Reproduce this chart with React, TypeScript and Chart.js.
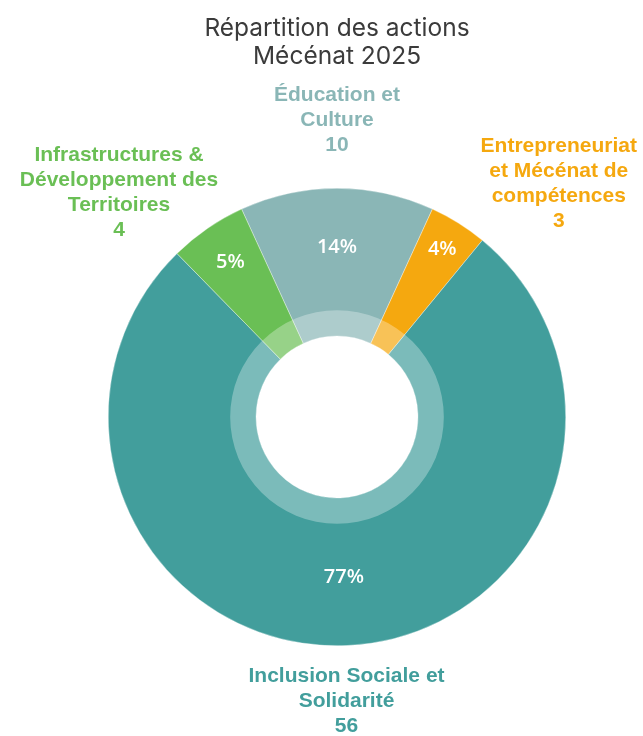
import React, { useEffect, useRef } from "react";
import { Chart, registerables } from "chart.js";

Chart.register(...registerables);

// ---- Data ----
const CATEGORIES: string[][] = [
  ["Éducation et", "Culture"],
  ["Entrepreneuriat", "et Mécénat de", "compétences"],
  ["Inclusion Sociale et", "Solidarité"],
  ["Infrastructures &", "Développement des", "Territoires"],
];
const VALUES: number[] = [10, 3, 56, 4];
const COLORS: string[] = ["#8AB6B6", "#F5A80F", "#429E9C", "#6ABF55"];

const TITLE_LINES = ["Répartition des actions", "Mécénat 2025"];

const TOTAL = VALUES.reduce((a, b) => a + b, 0);
const PERCENTS = VALUES.map((v) => Math.round((v / TOTAL) * 100) + "%");

const LABEL_FONT = "bold 21px 'Liberation Sans'";
const PCT_FONT = "600 20px 'Open Sans'";
const LINE_H = 25;

const donutLabels = {
  id: "donutLabels",
  afterDatasetsDraw(chart: any) {
    const meta = chart.getDatasetMeta(0);
    if (!meta || !meta.data.length) return;
    const ctx = chart.ctx as CanvasRenderingContext2D;
    const first = meta.data[0].getProps(["x", "y", "innerRadius", "outerRadius"], true);
    const cx = first.x, cy = first.y, R = first.outerRadius, rIn = first.innerRadius;
    const ringOuter = R * 0.467;

    ctx.save();
    // translucent inner ring
    ctx.beginPath();
    ctx.arc(cx, cy, ringOuter, 0, Math.PI * 2);
    ctx.arc(cx, cy, rIn, 0, Math.PI * 2, true);
    ctx.closePath();
    ctx.fillStyle = "rgba(255,255,255,0.3)";
    ctx.fill();

    ctx.textAlign = "center";
    ctx.textBaseline = "middle";

    meta.data.forEach((arc: any, i: number) => {
      const p = arc.getProps(["startAngle", "endAngle"], true);
      const mid = (p.startAngle + p.endAngle) / 2;
      const span = ((p.endAngle - p.startAngle) * 180) / Math.PI;
      const c = Math.cos(mid), s = Math.sin(mid);

      // percentage inside the slice (narrow slices pushed outward)
      const rp = R * 0.69 + 600 / span;
      ctx.font = PCT_FONT;
      ctx.fillStyle = "#ffffff";
      ctx.fillText(PERCENTS[i], cx + rp * c, cy + rp * s);

      // outer label, spread sideways for the slanted slices
      const lines = [...CATEGORIES[i], String(VALUES[i])];
      const Rl = R * 0.638 + R * 0.633 * Math.abs(s);
      const lx = cx + 1.8 * Rl * c * Math.pow(Math.abs(c), 0.3) + 18 * Math.abs(c);
      const ly = cy + Rl * s - 6;
      const h = lines.length * LINE_H;
      ctx.font = LABEL_FONT;
      ctx.fillStyle = COLORS[i];
      lines.forEach((t, k) => {
        ctx.fillText(t, lx, ly - h / 2 + (k + 0.5) * LINE_H);
      });
    });
    ctx.restore();
  },
};

export default function App() {
  const ref = useRef<HTMLCanvasElement | null>(null);

  useEffect(() => {
    if (!ref.current) return;
    const rotation = -((VALUES[0] / TOTAL) * 360) / 2;
    const chart = new Chart(ref.current, {
      type: "doughnut",
      data: {
        labels: CATEGORIES,
        datasets: [
          {
            data: VALUES,
            backgroundColor: COLORS,
            borderColor: "rgba(255,255,255,0.7)",
            borderWidth: 0.5,
          },
        ],
      },
      options: {
        responsive: false,
        animation: false,
        rotation,
        cutout: "35.4%",
        layout: { padding: { left: 108, right: 77, top: 0, bottom: 90 } },
        plugins: {
          legend: { display: false },
          tooltip: { enabled: false },
          title: {
            display: true,
            text: TITLE_LINES,
            color: "#3b3b3b",
            font: { family: "Inter", size: 24.5, weight: "400", lineHeight: 28.5 / 24.5 },
            padding: { top: 14, bottom: 117 },
          },
        },
      },
      plugins: [donutLabels],
    });
    return () => chart.destroy();
  }, []);

  return (
    <div style={{ position: "absolute", left: 0, top: 0, width: 643, height: 736, background: "#fff" }}>
      <canvas ref={ref} width={643} height={736} style={{ width: 643, height: 736, display: "block" }} />
    </div>
  );
}
